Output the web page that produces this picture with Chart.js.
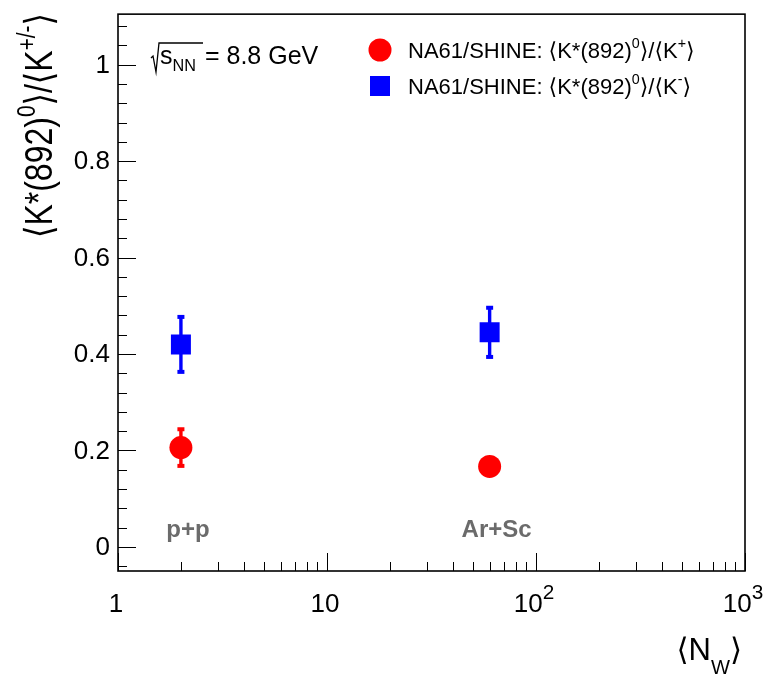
<!DOCTYPE html>
<html>
<head>
<meta charset="utf-8">
<script src="https://cdn.jsdelivr.net/npm/chart.js@4.4.1/dist/chart.umd.min.js"></script>
<style>
  html, body { margin: 0; padding: 0; background: #fff; }
  #wrap { width: 765px; height: 675px; position: relative; }
</style>
</head>
<body>
<div id="wrap"><canvas id="chart" width="765" height="675"></canvas></div>
<script>
// data
const systems = ['p+p', 'Ar+Sc'];
const nWounded = [2, 60];
const ratioKPlus = [0.206, 0.167];
const errKPlus = [0.038, 0.012];
const ratioKMinus = [0.420, 0.445];
const errKMinus = [0.057, 0.051];
const yTicks = [0, 0.2, 0.4, 0.6, 0.8, 1];
const xTicks = [1, 10, 100, 1000];
const xTickBase = ['1', '10', '10', '10'];
const xTickExp = ['', '', '2', '3'];

const FONT = '"Liberation Sans", Arial, "DejaVu Sans", sans-serif';
const RED = '#ff0000';
const BLUE = '#0000ff';

// draw text made of [text, level] pieces, level 1 = superscript, -1 = subscript
function richWidth(ctx, parts, size, opts) {
    const o = Object.assign({ small: 0.65 }, opts);
    let w = 0;
    parts.forEach(([t, lvl]) => {
        const s = lvl ? size * o.small : size;
        ctx.font = `${o.weight || ''} ${s}px ${FONT}`;
        w += ctx.measureText(t).width;
    });
    return w;
}
function drawRich(ctx, parts, x, y, size, opts) {
    const o = Object.assign({ color: '#000', sup: 0.45, sub: 0.28, small: 0.65 }, opts);
    ctx.fillStyle = o.color;
    ctx.textAlign = 'left';
    ctx.textBaseline = 'alphabetic';
    let cx = x;
    parts.forEach(([t, lvl]) => {
        const s = lvl ? size * o.small : size;
        ctx.font = `${o.weight || ''} ${s}px ${FONT}`;
        const dy = lvl === 1 ? -size * o.sup : (lvl === -1 ? size * o.sub : 0);
        ctx.fillText(t, cx, y + dy);
        cx += ctx.measureText(t).width;
    });
    return cx;
}

function drawMarker(ctx, style, x, y) {
    ctx.beginPath();
    if (style === 'circle') {
        ctx.fillStyle = RED;
        ctx.arc(x, y, 11.5, 0, Math.PI * 2);
        ctx.fill();
    } else {
        ctx.fillStyle = BLUE;
        ctx.fillRect(x - 10, y - 10, 20, 20);
    }
}

const rootStyle = {
    id: 'rootStyle',
    beforeDatasetsDraw(chart) {
        const { ctx, scales: { x, y } } = chart;
        ctx.save();
        // error bars
        const bars = [[ratioKPlus, errKPlus, RED], [ratioKMinus, errKMinus, BLUE]];
        bars.forEach(([vals, errs, col]) => {
            vals.forEach((v, i) => {
                const px = x.getPixelForValue(nWounded[i]);
                const top = y.getPixelForValue(v + errs[i]);
                const bot = y.getPixelForValue(v - errs[i]);
                ctx.fillStyle = col;
                ctx.fillRect(px - 1.7, top, 3.4, bot - top);
                ctx.fillRect(px - 3.5, top - 2, 7, 4);
                ctx.fillRect(px - 3.5, bot - 2, 7, 4);
            });
        });
        ctx.restore();
    },
    afterDraw(chart) {
        const { ctx, chartArea: a, scales: { x, y } } = chart;
        ctx.save();
        // frame
        ctx.strokeStyle = '#000';
        ctx.lineWidth = 1.6;
        ctx.strokeRect(a.left, a.top, a.right - a.left, a.bottom - a.top);

        // y ticks (inside)
        ctx.lineWidth = 1;
        ctx.beginPath();
        for (let v = -0.04; v <= 1.1; v += 0.04) {
            const r = Math.round(v * 100) / 100;
            const py = Math.round(y.getPixelForValue(r)) + 0.5;
            const major = Math.abs(r * 5 - Math.round(r * 5)) < 1e-6;
            ctx.moveTo(a.left, py);
            ctx.lineTo(a.left + (major ? 18 : 9), py);
        }
        // x ticks (inside, log)
        for (let d = 1; d < 1000; d *= 10) {
            for (let k = 1; k <= 10; k++) {
                const val = d * k;
                if (val > 1000) break;
                const px = Math.round(x.getPixelForValue(val)) + 0.5;
                const major = k === 1 || k === 10;
                ctx.moveTo(px, a.bottom);
                ctx.lineTo(px, a.bottom - (major ? 18 : 9));
            }
        }
        ctx.stroke();

        // y tick labels
        ctx.font = `26px ${FONT}`;
        ctx.fillStyle = '#000';
        ctx.textAlign = 'right';
        ctx.textBaseline = 'middle';
        yTicks.forEach(v => {
            ctx.fillText(String(v), a.left - 8, y.getPixelForValue(v) + 1);
        });

        // x tick labels (with exponents)
        xTicks.forEach((v, i) => {
            const parts = [[xTickBase[i], 0]];
            if (xTickExp[i]) parts.push([xTickExp[i], 1]);
            const opts = { sup: 0.5, small: 0.8 };
            const w = richWidth(ctx, parts, 26, opts);
            drawRich(ctx, parts, x.getPixelForValue(v) - w / 2 - 2, 612, 26, opts);
        });

        // y axis title (rotated, top aligned, ROOT font is tall)
        const ytParts = [['⟨K*(892)', 0], ['0', 1], ['⟩/⟨K', 0], ['+/-', 1], ['⟩', 0]];
        const ytSize = 32;
        const ytW = richWidth(ctx, ytParts, ytSize);
        ctx.save();
        ctx.translate(52, 13);
        ctx.rotate(-Math.PI / 2);
        ctx.scale(1, 1.2);
        drawRich(ctx, ytParts, -ytW, 0, ytSize);
        ctx.restore();

        // x axis title
        const xtParts = [['⟨N', 0], ['W', -1], ['⟩', 0]];
        const xtW = richWidth(ctx, xtParts, 31);
        drawRich(ctx, xtParts, 742 - xtW, 660, 31, { sub: 0.45 });

        // energy label with sqrt sign
        ctx.strokeStyle = '#000';
        ctx.lineWidth = 1.3;
        ctx.beginPath();
        ctx.moveTo(151, 58);
        ctx.lineTo(153, 56);
        ctx.lineTo(156, 72);
        ctx.lineTo(159, 43);
        ctx.lineTo(203, 43);
        ctx.stroke();
        const ex = drawRich(ctx, [['s', 0], ['NN', -1]], 160, 64, 25);
        drawRich(ctx, [['= 8.8 GeV', 0]], ex + 9, 64, 25);

        // legend
        const legendRows = [
            ['circle', [['NA61/SHINE: ⟨K*(892)', 0], ['0', 1], ['⟩/⟨K', 0], ['+', 1], ['⟩', 0]]],
            ['rect', [['NA61/SHINE: ⟨K*(892)', 0], ['0', 1], ['⟩/⟨K', 0], ['-', 1], ['⟩', 0]]]
        ];
        legendRows.forEach(([style, parts], i) => {
            const ly = 50 + i * 36;
            drawMarker(ctx, style, 380, ly);
            drawRich(ctx, parts, 408, ly + 8, 22);
        });

        // system labels
        ctx.font = `bold 24px ${FONT}`;
        ctx.fillStyle = '#6b6b6b';
        ctx.textAlign = 'center';
        ctx.textBaseline = 'alphabetic';
        systems.forEach((s, i) => {
            ctx.fillText(s, x.getPixelForValue(nWounded[i]) + 7, 537);
        });
        ctx.restore();
    }
};

const ctx = document.getElementById('chart').getContext('2d');
new Chart(ctx, {
    type: 'scatter',
    data: {
        datasets: [
            {
                label: 'K*0/K+',
                data: nWounded.map((n, i) => ({ x: n, y: ratioKPlus[i] })),
                pointStyle: 'circle',
                pointRadius: 11.5,
                pointHoverRadius: 11.5,
                backgroundColor: RED,
                borderWidth: 0
            },
            {
                label: 'K*0/K-',
                data: nWounded.map((n, i) => ({ x: n, y: ratioKMinus[i] })),
                pointStyle: 'rect',
                pointRadius: 14.14,
                pointHoverRadius: 14.14,
                backgroundColor: BLUE,
                borderWidth: 0
            }
        ]
    },
    options: {
        responsive: false,
        animation: false,
        layout: { padding: { top: 10, right: 20, left: 0, bottom: 0 } },
        plugins: {
            legend: { display: false },
            tooltip: { enabled: false }
        },
        scales: {
            x: {
                type: 'logarithmic',
                min: 1,
                max: 1000,
                grid: { display: false, drawTicks: false },
                border: { display: false },
                afterFit: s => { s.height = 104; },
                afterBuildTicks: s => { s.ticks = xTicks.map(v => ({ value: v })); },
                ticks: { display: false }
            },
            y: {
                type: 'linear',
                min: -0.05,
                max: 1.105,
                grid: { display: false, drawTicks: false },
                border: { display: false },
                afterFit: s => { s.width = 118; },
                afterBuildTicks: s => { s.ticks = yTicks.map(v => ({ value: v })); },
                ticks: { display: false }
            }
        }
    },
    plugins: [rootStyle]
});
</script>
</body>
</html>
